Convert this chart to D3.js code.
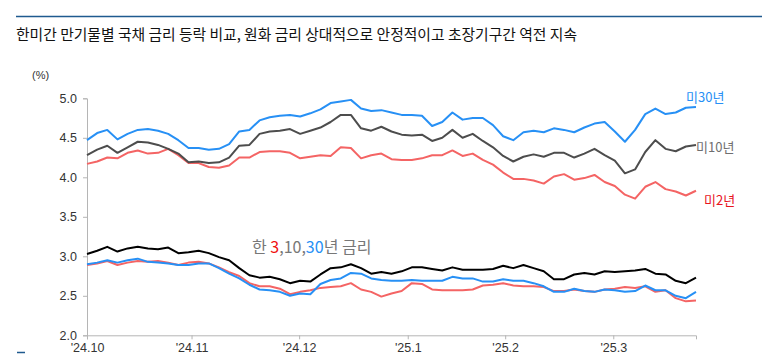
<!DOCTYPE html>
<html><head><meta charset="utf-8">
<script src="https://cdn.jsdelivr.net/npm/d3@7"></script>
<style>
html,body{margin:0;padding:0;background:#fff;}
svg{display:block;}
</style></head>
<body>
<svg id="chart" width="776" height="360"></svg>
<script>
// ---- data ----
const title = "한미간 만기물별 국채 금리 등락 비교, 원화 금리 상대적으로 안정적이고 초장기구간 역전 지속";
const yTicks = [2.0, 2.5, 3.0, 3.5, 4.0, 4.5, 5.0];
const monthLabels = ["'24.10", "'24.11", "'24.12", "'25.1", "'25.2", "'25.3"];
const monthIndex = [0, 10.3, 20.9, 31.6, 41.2, 51.85];

const us30 = [4.47,4.56,4.60,4.48,4.55,4.60,4.61,4.59,4.55,4.47,4.37,4.37,4.35,4.36,4.42,4.58,4.60,4.72,4.76,4.78,
  4.79,4.77,4.81,4.86,4.94,4.96,4.98,4.87,4.84,4.85,4.82,4.79,4.79,4.78,4.65,4.70,4.82,4.73,4.75,4.75,
  4.66,4.52,4.47,4.57,4.59,4.57,4.62,4.60,4.57,4.63,4.68,4.70,4.58,4.45,4.60,4.80,4.87,4.80,4.82,4.88,4.89];
const us10 = [4.28,4.35,4.40,4.31,4.38,4.45,4.44,4.41,4.36,4.30,4.19,4.20,4.18,4.19,4.25,4.40,4.41,4.55,4.58,4.59,
  4.61,4.55,4.59,4.63,4.70,4.79,4.79,4.62,4.59,4.64,4.58,4.54,4.53,4.54,4.46,4.50,4.60,4.50,4.55,4.46,
  4.38,4.27,4.20,4.26,4.29,4.26,4.31,4.31,4.25,4.30,4.36,4.28,4.21,4.05,4.10,4.32,4.47,4.36,4.33,4.39,4.41];
const us2 = [4.17,4.20,4.25,4.24,4.31,4.34,4.30,4.31,4.36,4.28,4.18,4.18,4.13,4.12,4.15,4.25,4.25,4.32,4.33,4.33,
  4.31,4.24,4.26,4.28,4.27,4.38,4.37,4.24,4.28,4.30,4.23,4.22,4.22,4.24,4.28,4.28,4.34,4.27,4.30,4.22,
  4.16,4.06,3.98,3.98,3.96,3.92,4.01,4.04,3.97,3.99,4.03,3.94,3.89,3.78,3.73,3.88,3.94,3.85,3.82,3.77,3.83];
const kr10 = [3.03,3.07,3.12,3.06,3.10,3.12,3.10,3.09,3.11,3.04,3.05,3.07,3.04,2.99,2.95,2.85,2.76,2.73,2.74,2.71,
  2.66,2.69,2.68,2.77,2.85,2.86,2.90,2.85,2.78,2.80,2.78,2.81,2.86,2.86,2.84,2.82,2.86,2.83,2.83,2.83,
  2.84,2.88,2.85,2.89,2.85,2.81,2.71,2.71,2.77,2.79,2.77,2.81,2.80,2.81,2.82,2.84,2.78,2.77,2.69,2.66,2.73];
const kr30 = [2.90,2.92,2.95,2.92,2.95,2.97,2.93,2.92,2.91,2.89,2.89,2.91,2.91,2.85,2.78,2.72,2.64,2.58,2.57,2.55,
  2.50,2.53,2.52,2.65,2.70,2.72,2.79,2.78,2.72,2.70,2.69,2.69,2.70,2.69,2.69,2.69,2.74,2.72,2.72,2.68,
  2.68,2.71,2.69,2.69,2.66,2.62,2.55,2.55,2.59,2.56,2.55,2.58,2.57,2.55,2.56,2.63,2.57,2.57,2.50,2.47,2.55];
const kr3 = [2.89,2.91,2.94,2.89,2.92,2.94,2.93,2.94,2.92,2.89,2.92,2.93,2.91,2.86,2.80,2.75,2.66,2.62,2.62,2.59,
  2.52,2.55,2.57,2.60,2.61,2.62,2.66,2.58,2.55,2.49,2.53,2.56,2.66,2.65,2.58,2.57,2.57,2.57,2.58,2.63,
  2.64,2.66,2.63,2.62,2.62,2.61,2.56,2.56,2.58,2.56,2.55,2.58,2.59,2.61,2.60,2.62,2.55,2.57,2.47,2.43,2.44];

// ---- drawing ----
const BLUE = "#2790f5", GRAY = "#4d4d4d", RED = "#f46464", BLACK = "#000";
const svg = d3.select("#chart");
const KR = "'Noto Sans CJK KR', sans-serif";
const NUM = "'Liberation Sans', Arial, sans-serif";

// header rule and title
svg.append("line").attr("x1", 16).attr("x2", 762).attr("y1", 16.5).attr("y2", 16.5)
  .attr("stroke", "#1f5a8f").attr("stroke-width", 1.5);
svg.append("text").attr("x", 16).attr("y", 40).text(title)
  .attr("font-family", KR).attr("font-size", 15).attr("fill", "#111")
  .attr("textLength", 561).attr("lengthAdjust", "spacingAndGlyphs");

const x = d3.scaleLinear().domain([0, us30.length - 1]).range([87, 696]);
const y = d3.scaleLinear().domain([2, 5]).range([335.3, 98.3]);

// y axis
const yAxis = svg.append("g").attr("transform", "translate(87,0)")
  .call(d3.axisLeft(y).tickValues(yTicks).tickFormat(d3.format(".1f")).tickSizeOuter(0).tickSize(4).tickPadding(6));
yAxis.select(".domain").attr("stroke", "#b5b5b5");
yAxis.selectAll(".tick line").attr("stroke", "#b5b5b5");
yAxis.selectAll(".tick text").attr("font-family", NUM).attr("font-size", 12.5).attr("fill", "#333");

// x axis
const xAxis = svg.append("g").attr("transform", "translate(0,335.3)")
  .call(d3.axisBottom(x).tickValues(monthIndex).tickFormat((d, i) => monthLabels[i]).tickSizeOuter(0).tickSize(4).tickPadding(4));
xAxis.select(".domain").attr("stroke", "#b5b5b5");
xAxis.selectAll(".tick line").attr("stroke", "#b5b5b5");
xAxis.selectAll(".tick text").attr("font-family", NUM).attr("font-size", 12.5).attr("fill", "#333");

// unit
svg.append("text").attr("x", 32).attr("y", 79).text("(%)")
  .attr("font-family", NUM).attr("font-size", 11).attr("fill", "#333");

// lines
const line = d3.line().x((d, i) => x(i)).y(d => y(d));
const series = [
  {v: us2, c: RED}, {v: us10, c: GRAY}, {v: us30, c: BLUE},
  {v: kr3, c: RED}, {v: kr30, c: BLUE}, {v: kr10, c: BLACK}
];
svg.append("g").selectAll("path").data(series).join("path")
  .attr("d", d => line(d.v)).attr("fill", "none")
  .attr("stroke", d => d.c).attr("stroke-width", 2).attr("stroke-linejoin", "round");

// series labels
const lab = (t, xx, yy, c) => svg.append("text").attr("x", xx).attr("y", yy).text(t)
  .attr("font-family", KR).attr("font-size", 13).attr("fill", c).attr("dominant-baseline", "central");
lab("미30년", 686, 96, BLUE);
lab("미10년", 696, 146, "#6f6f6f");
lab("미2년", 704, 199, "#e8141e");

// Korea label
const kt = svg.append("text").attr("x", 252).attr("y", 246).attr("dominant-baseline", "central")
  .attr("font-family", KR).attr("font-size", 16).attr("fill", "#777");
kt.append("tspan").text("한 ");
kt.append("tspan").text("3").attr("fill", "#f01010");
kt.append("tspan").text(",10,");
kt.append("tspan").text("30").attr("fill", BLUE);
kt.append("tspan").text("년 금리");

// small footer mark
svg.append("line").attr("x1", 17).attr("x2", 25).attr("y1", 352.5).attr("y2", 352.5)
  .attr("stroke", "#1f5a8f").attr("stroke-width", 1.5);
</script>
</body></html>
